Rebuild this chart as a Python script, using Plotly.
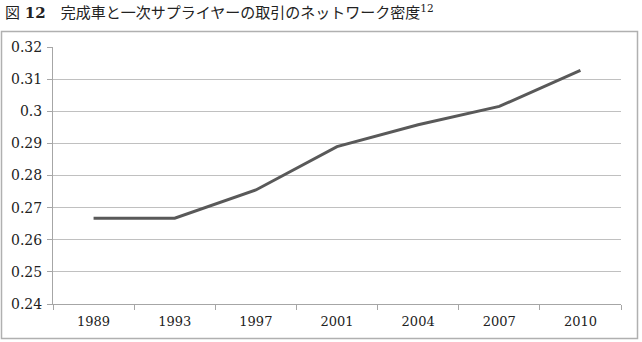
import plotly.graph_objects as go

years = ["1989", "1993", "1997", "2001", "2004", "2007", "2010"]
density = [0.2667, 0.2667, 0.2755, 0.2890, 0.2958, 0.3015, 0.3127]
y_ticks = [0.24, 0.25, 0.26, 0.27, 0.28, 0.29, 0.30, 0.31, 0.32]
y_tick_labels = ["0.24", "0.25", "0.26", "0.27", "0.28", "0.29", "0.3", "0.31", "0.32"]
title_text = "図 <b>12</b>　完成車と一次サプライヤーの取引のネットワーク密度<sup>12</sup>"

W, H = 642, 342
ml, mr, mt, mb = 53, 21, 47, 38
pw, ph = W - ml - mr, H - mt - mb

def px_x(x):
    return (x - ml) / pw

def px_y(y):
    return (H - mb - y) / ph

fig = go.Figure()
fig.add_trace(go.Scatter(
    x=years, y=density, mode="lines",
    line=dict(color="#595959", width=3),
    hoverinfo="skip", showlegend=False,
))

fig.update_layout(
    width=W, height=H,
    margin=dict(l=ml, r=mr, t=mt, b=mb),
    paper_bgcolor="white", plot_bgcolor="white",
    font=dict(family="DejaVu Serif, Liberation Serif, serif", size=13.5, color="#222222"),
    xaxis=dict(
        type="category", range=[-0.5, 6.5],
        tickson="boundaries", ticks="outside", ticklen=5, tickcolor="#a6a6a6",
        showline=True, linecolor="#a6a6a6", linewidth=1,
        showgrid=False, zeroline=False,
        tickfont=dict(size=13), ticklabelstandoff=5,
    ),
    yaxis=dict(
        range=[0.24, 0.32], tickvals=y_ticks, ticktext=y_tick_labels,
        ticks="outside", ticklen=5, tickcolor="#a6a6a6",
        showline=True, linecolor="#a6a6a6", linewidth=1,
        showgrid=True, gridcolor="#c0c0c0", gridwidth=1,
        zeroline=False, tickfont=dict(size=14), ticklabelstandoff=2,
    ),
    shapes=[dict(
        type="rect", xref="paper", yref="paper",
        x0=px_x(1.5), x1=px_x(637.5), y0=px_y(338.5), y1=px_y(31.5),
        line=dict(color="#b0b0b0", width=1.5), fillcolor="rgba(0,0,0,0)",
        layer="below",
    )],
    annotations=[dict(
        text=title_text, xref="paper", yref="paper",
        x=px_x(3), y=px_y(12), xanchor="left", yanchor="middle",
        showarrow=False,
        font=dict(family="DejaVu Serif, Noto Sans CJK JP", size=15, color="#222222"),
    )],
)

fig.write_html("out.html")
